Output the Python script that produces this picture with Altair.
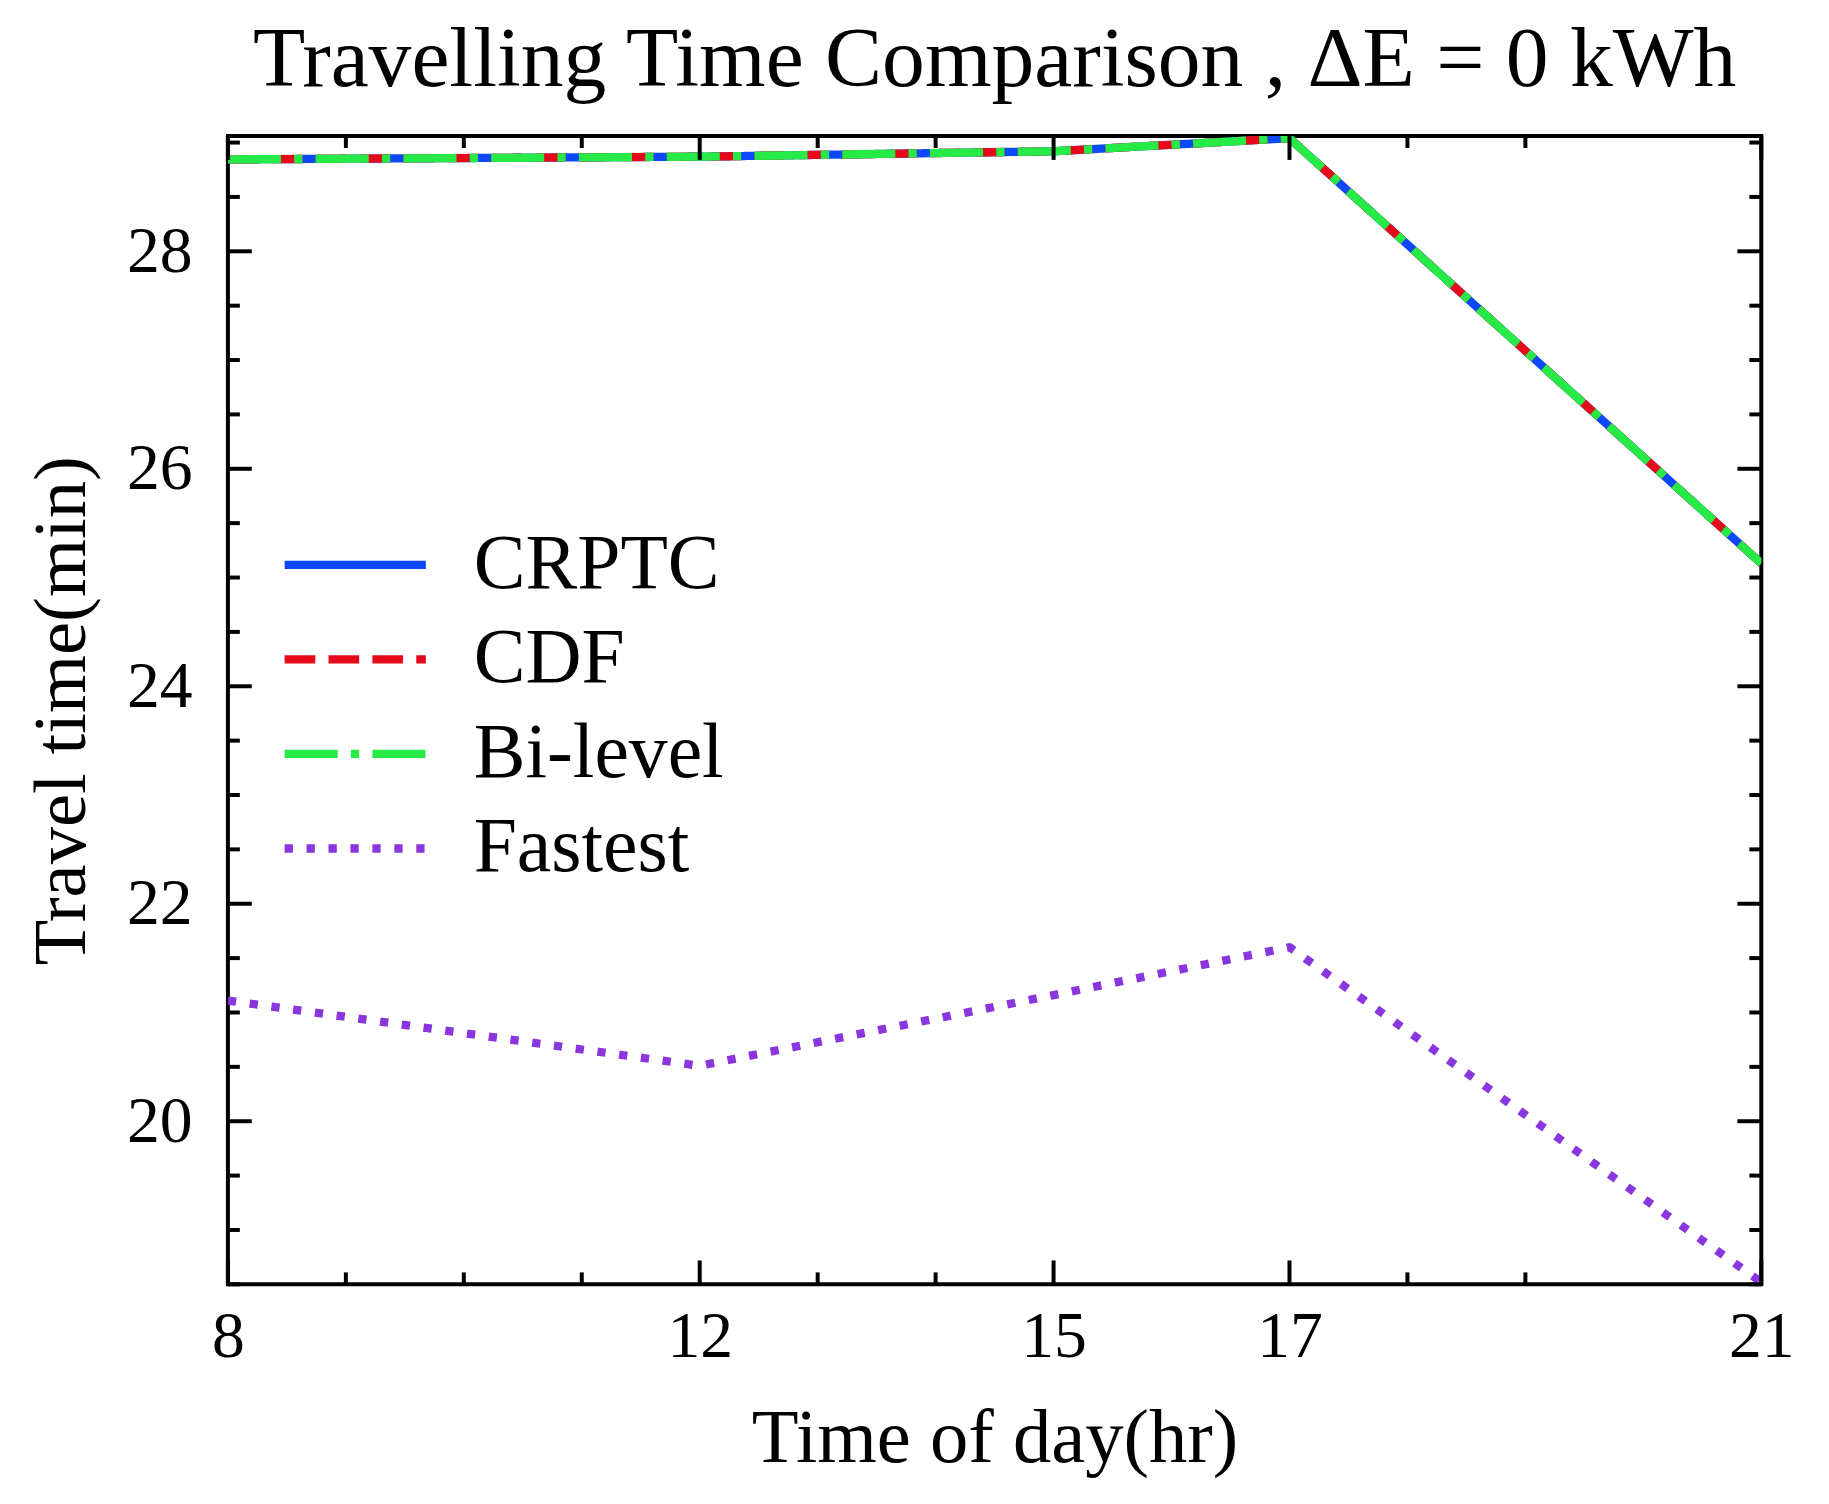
import altair as alt
import pandas as pd

# ---- data ----
hours = [8, 12, 15, 17, 21]
crptc = [28.845, 28.87, 28.92, 29.04, 25.13]
cdf = [28.845, 28.87, 28.92, 29.04, 25.13]
bilevel = [28.845, 28.87, 28.92, 29.04, 25.13]
fastest = [21.11, 20.51, 21.16, 21.6, 18.52]
series_names = ["CRPTC", "CDF", "Bi-level", "Fastest"]
series_colors = ["#0d49fb", "#e6091c", "#26eb47", "#8936df"]
series_dashes = [[1, 0], [30.8, 13.3], [53.3, 13.3, 8.3, 13.3], [8.3, 13.75]]

x_major = [8, 12, 15, 17, 21]
x_minor = [9, 10, 11, 13, 14, 18, 19]
y_major = [20, 22, 24, 26, 28]
y_minor = [18.5, 19, 19.5, 20.5, 21, 21.5, 22.5, 23, 23.5, 24.5, 25, 25.5,
           26.5, 27, 27.5, 28.5, 29]
x_domain = [8, 21]
y_domain = [18.5, 29.06]

title_text = "Travelling Time Comparison , \u0394E = 0 kWh"
x_title = "Time of day(hr)"
y_title = "Travel time(min)"

# ---- layout / style ----
W, H = 1541, 1154
FONT = "Liberation Serif"
LW = 8.33
MAJ, MIN = 24, 12
TICK_W = 4

values = {"CRPTC": crptc, "CDF": cdf, "Bi-level": bilevel, "Fastest": fastest}
rows = []
for name in series_names:
    for h, v in zip(hours, values[name]):
        rows.append({"hour": h, "time": v, "method": name})
df = pd.DataFrame(rows)

xs = alt.Scale(domain=x_domain, nice=False, zero=False)
ys = alt.Scale(domain=y_domain, nice=False, zero=False)

legend = alt.Legend(
    title=None,
    orient="none",
    legendX=89,
    legendY=392,
    symbolType="M-4,0H4",
    symbolSize=1260,
    symbolStrokeWidth=LW,
    labelFontSize=78,
    labelFont=FONT,
    labelColor="black",
    labelOffset=80,
    labelLimit=1000,
    rowPadding=17,
)
color_enc = alt.Color(
    "method:N",
    sort=series_names,
    scale=alt.Scale(domain=series_names, range=series_colors),
    legend=legend,
)
dash_enc = alt.StrokeDash(
    "method:N",
    sort=series_names,
    scale=alt.Scale(domain=series_names, range=series_dashes),
    legend=legend,
)

x_axis = alt.Axis(
    values=x_major, format="d", labelFontSize=66, labelFont=FONT, labelColor="black",
    labelPadding=21, ticks=False, tickSize=0, domain=False, grid=False,
    labelFlush=False, labelOverlap=False,
    titleFontSize=77, titleFont=FONT, titleFontWeight="normal",
    titleColor="black", titlePadding=31,
)
y_axis = alt.Axis(
    values=y_major, format="d", labelFontSize=66, labelFont=FONT, labelColor="black",
    labelPadding=36, ticks=False, tickSize=0, domain=False, grid=False,
    labelFlush=False, labelOverlap=False,
    titleFontSize=75, titleFont=FONT, titleFontWeight="normal",
    titleColor="black", titlePadding=26,
)


def X(field):
    return alt.X(field, scale=xs, axis=x_axis, title=x_title)


def Y(field):
    return alt.Y(field, scale=ys, axis=y_axis, title=y_title)


line_layers = []
for name in series_names:
    line_layers.append(
        alt.Chart(df)
        .transform_filter(alt.datum.method == name)
        .mark_line(strokeWidth=LW, clip=True, strokeJoin="round")
        .encode(
            x=X("hour:Q"),
            y=Y("time:Q"),
            color=color_enc,
            strokeDash=dash_enc,
        )
    )


def xticks(vals, length):
    d = pd.DataFrame({"v": vals})
    base = alt.Chart(d).mark_rule(color="black", strokeWidth=TICK_W)
    bottom = base.encode(x=X("v:Q"), y=alt.value(H), y2=alt.value(H - length))
    top = base.encode(x=X("v:Q"), y=alt.value(0), y2=alt.value(length))
    return [bottom, top]


def yticks(vals, length):
    d = pd.DataFrame({"v": vals})
    base = alt.Chart(d).mark_rule(color="black", strokeWidth=TICK_W)
    left = base.encode(y=Y("v:Q"), x=alt.value(0), x2=alt.value(length))
    right = base.encode(y=Y("v:Q"), x=alt.value(W - length), x2=alt.value(W))
    return [left, right]


tick_layers = (xticks(x_major, MAJ) + xticks(x_minor, MIN)
               + yticks(y_major, MAJ) + yticks(y_minor, MIN))

chart = (
    alt.layer(*line_layers, *tick_layers)
    .properties(
        width=W,
        height=H,
        title=alt.TitleParams(
            text=title_text, fontSize=86, font=FONT, fontWeight="normal",
            color="black", anchor="middle", baseline="alphabetic", offset=49, dy=87,
        ),
        autosize=alt.AutoSizeParams(type="none"),
        padding={"left": 221, "top": 125, "right": 60, "bottom": 200},
        background="white",
    )
    .configure_view(stroke="black", strokeWidth=TICK_W)
)

chart.save("out.html", embed_options={"renderer": "svg", "actions": False})
